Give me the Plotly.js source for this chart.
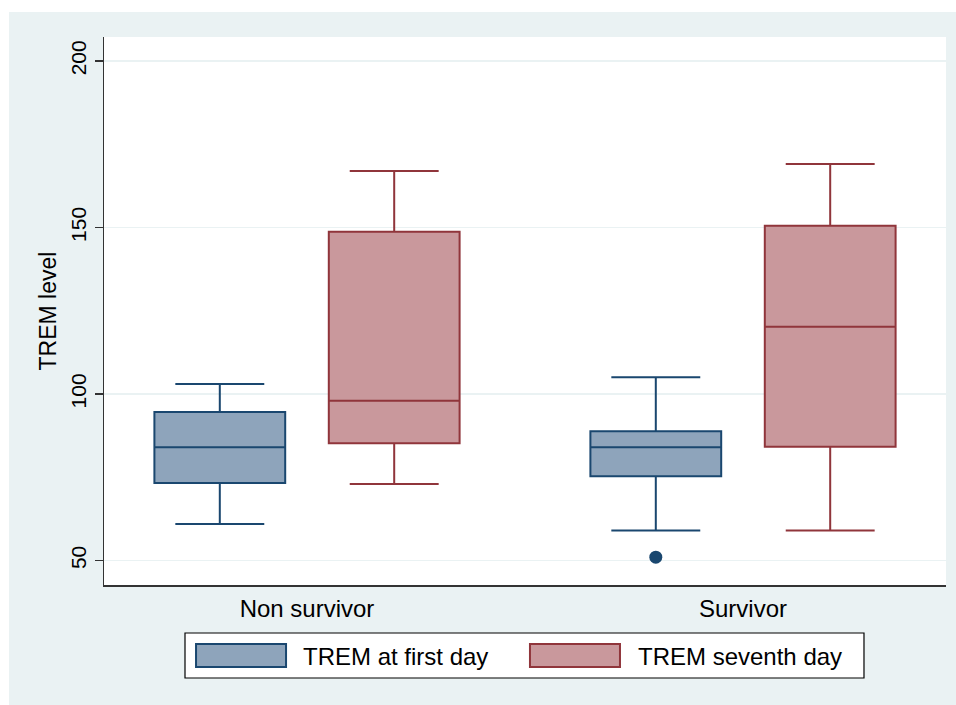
<!DOCTYPE html>
<html>
<head>
<meta charset="utf-8">
<script src="https://cdn.plot.ly/plotly-3.0.1.min.js"></script>
<style>
  html, body { margin: 0; padding: 0; background: #ffffff; }
  #chart { position: absolute; left: 9px; top: 12px; width: 947px; height: 693px; }
</style>
</head>
<body>
<div id="chart"></div>
<script>
// ---- data ----
const groups = ['Non survivor', 'Survivor'];
const seriesNames = ['TREM at first day', 'TREM seventh day'];

const firstLower  = [61.0, 59.0];
const firstQ1     = [73.3, 75.3];
const firstMedian = [84.0, 84.0];
const firstQ3     = [94.6, 88.8];
const firstUpper  = [103.0, 105.0];

const seventhLower  = [73.0, 59.0];
const seventhQ1     = [85.2, 84.2];
const seventhMedian = [98.0, 120.2];
const seventhQ3     = [148.7, 150.5];
const seventhUpper  = [167.0, 169.1];

const outlierGroup = ['Survivor'];
const outlierValue = [51.0];

const yTicks = [50, 100, 150, 200];

// ---- styles ----
const blueLine = '#1a476f', blueFill = '#8ea4bb';
const redLine = '#90353b', redFill = '#c9989c';
const seriesOffset = 0.2;   // horizontal offset of each series within a group
const boxW = 0.3;
const font = 'Liberation Sans, Arial, sans-serif';

const gIdx = g => groups.indexOf(g);
const pos = (arr, off) => arr.map((_, i) => i + off);

const traces = [
  {
    type: 'box', name: seriesNames[0], showlegend: false,
    x: pos(groups, -seriesOffset),
    q1: firstQ1, median: firstMedian, q3: firstQ3,
    lowerfence: firstLower, upperfence: firstUpper,
    width: boxW, whiskerwidth: 0.68,
    fillcolor: blueFill, line: {color: blueLine, width: 2},
    boxpoints: false, hoverinfo: 'y'
  },
  {
    type: 'box', name: seriesNames[1], showlegend: false,
    x: pos(groups, seriesOffset),
    q1: seventhQ1, median: seventhMedian, q3: seventhQ3,
    lowerfence: seventhLower, upperfence: seventhUpper,
    width: boxW, whiskerwidth: 0.68,
    fillcolor: redFill, line: {color: redLine, width: 2},
    boxpoints: false, hoverinfo: 'y'
  },
  {
    type: 'scatter', mode: 'markers', showlegend: false,
    x: outlierGroup.map(g => gIdx(g) - seriesOffset),
    y: outlierValue,
    marker: {color: blueLine, size: 13, symbol: 'circle'},
    hoverinfo: 'y'
  }
];

// legend drawn in paper coordinates
const legendItems = [
  {name: seriesNames[0], fill: blueFill, line: blueLine, x0: 0.1093, x1: 0.2162, tx: 0.2345},
  {name: seriesNames[1], fill: redFill, line: redLine, x0: 0.5059, x1: 0.6128, tx: 0.6318}
];
const shapes = [
  {type: 'rect', xref: 'paper', yref: 'paper', x0: 0.0962, x1: 0.9026, y0: -0.0876, y1: -0.1697,
   line: {color: '#000000', width: 1.2}, fillcolor: '#ffffff', layer: 'above'}
];
const annotations = [];
legendItems.forEach(it => {
  shapes.push({type: 'rect', xref: 'paper', yref: 'paper', x0: it.x0, x1: it.x1, y0: -0.1077, y1: -0.1496,
    line: {color: it.line, width: 2}, fillcolor: it.fill, layer: 'above'});
  annotations.push({xref: 'paper', yref: 'paper', x: it.tx, y: -0.1296, xanchor: 'left', yanchor: 'middle',
    text: it.name, showarrow: false, font: {family: font, size: 24, color: '#000000'}});
});

const layout = {
  width: 947, height: 693,
  paper_bgcolor: '#eaf2f3',
  plot_bgcolor: '#ffffff',
  margin: {l: 95, r: 10, t: 25, b: 120},
  showlegend: false,
  font: {family: font, color: '#000000'},
  xaxis: {
    type: 'linear', range: [-0.4656, 1.4656],
    tickvals: groups.map((g, i) => i), ticktext: groups,
    ticks: 'outside', ticklen: 2, tickcolor: 'rgba(0,0,0,0)',
    showgrid: false, zeroline: false,
    showline: true, linecolor: '#333333', linewidth: 1.5,
    tickfont: {family: font, size: 24, color: '#000000'}
  },
  yaxis: {
    range: [42.65, 207.2],
    tickvals: yTicks, ticktext: yTicks.map(String),
    tickangle: -90,
    ticks: 'outside', ticklen: 8, tickwidth: 1.5, tickcolor: '#333333',
    showgrid: true, gridcolor: '#eaf2f3', gridwidth: 1.5,
    zeroline: false, showline: true, linecolor: '#333333', linewidth: 1.5,
    tickfont: {family: font, size: 21, color: '#000000'},
    title: {text: 'TREM level', font: {family: font, size: 23, color: '#000000'}, standoff: 4}
  },
  shapes: shapes,
  annotations: annotations
};

Plotly.newPlot('chart', traces, layout, {displayModeBar: false, staticPlot: true});
</script>
</body>
</html>
